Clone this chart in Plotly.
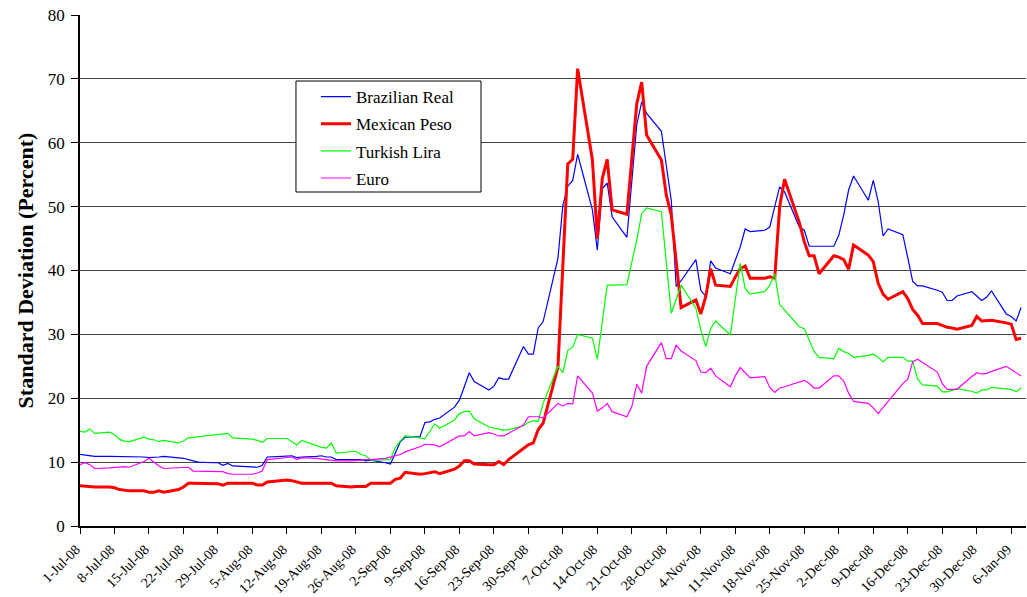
import pandas as pd
import plotly.graph_objects as go

# Business days, 1-Jul-2008 .. 8-Jan-2009
dates = pd.bdate_range("2008-07-01", "2009-01-08")

brazilian_real = [
    11.2, 11.1, 11.0, 10.9, 10.9,
    10.9, 10.9, 10.9, 10.8, 10.8,
    10.7, 10.7, 10.8, 10.9, 10.7,
    10.6, 10.4, 10.2, 10.0, 9.9,
    9.9, 9.5, 9.8, 9.4, 9.3,
    9.2, 9.2, 9.5, 10.8, 10.9,
    11.0, 11.0, 10.7, 10.8, 10.9,
    11.0, 10.8, 10.8, 10.4, 10.4,
    10.5, 10.4, 10.2, 10.3, 9.9,
    9.7, 11.4, 13.2, 13.9, 14.0,
    16.2, 16.3, 16.7, 16.9, 18.6,
    19.7, 21.8, 24.0, 22.6, 21.3,
    21.9, 23.2, 23.0, 23.0, 28.1,
    26.9, 26.9, 31.0, 32.0, 41.9,
    50.2, 53.2, 54.1, 58.2, 49.5,
    43.2, 52.8, 53.7, 48.4, 45.2,
    54.0, 62.8, 66.4, 64.6, 61.8,
    56.4, 51.0, 37.5, 38.4, 41.7,
    36.9, 36.0, 41.5, 40.4, 39.5,
    41.6, 43.7, 46.5, 46.1, 46.3,
    46.8, 50.0, 53.1, 52.3, 46.8,
    46.3, 43.8, 43.8, 43.8, 43.8,
    45.5, 48.7, 52.6, 54.8, 51.0,
    54.1, 50.8, 45.4, 46.5, 45.6,
    42.0, 38.3, 37.6, 37.6, 36.9,
    36.6, 35.3, 35.3, 36.0, 36.7,
    36.0, 35.3, 35.8, 36.8, 33.2,
    32.8, 32.1, 34.2,
]

mexican_peso = [
    6.3, 6.2, 6.1, 6.1, 6.1,
    6.0, 5.7, 5.6, 5.5, 5.5,
    5.3, 5.3, 5.5, 5.3, 5.7,
    6.1, 6.7, 6.7, 6.7, 6.6,
    6.6, 6.4, 6.7, 6.7, 6.7,
    6.7, 6.4, 6.4, 6.9, 7.1,
    7.2, 7.1, 6.9, 6.7, 6.7,
    6.7, 6.7, 6.7, 6.3, 6.1,
    6.2, 6.2, 6.2, 6.7, 6.7,
    6.7, 7.3, 7.5, 8.4, 8.1,
    8.2, 8.3, 8.5, 8.2, 8.9,
    9.4, 10.2, 10.2, 9.7, 9.6,
    9.6, 10.1, 9.6, 10.4, 12.2,
    12.7, 13.0, 15.1, 16.1, 24.9,
    40.8, 56.7, 57.4, 71.6, 57.3,
    45.0, 54.4, 57.4, 49.5, 48.8,
    57.5, 66.1, 69.5, 61.2, 57.3,
    51.8, 48.7, 41.5, 34.2, 35.4,
    33.2, 35.9, 40.3, 37.7, 37.5,
    39.0, 40.3, 40.7, 38.8, 38.8,
    39.0, 38.8, 50.0, 54.3, 47.5,
    44.5, 42.3, 42.3, 39.5, 42.3,
    42.1, 41.7, 40.2, 44.0, 42.4,
    41.4, 38.0, 36.3, 35.5, 36.7,
    35.6, 33.9, 33.0, 31.7, 31.7,
    31.4, 31.1, 31.0, 30.8, 31.4,
    32.8, 32.1, 32.2, 32.2, 31.8,
    31.6, 29.2, 29.4,
]

turkish_lira = [
    14.8, 14.7, 15.2, 14.5, 14.7,
    14.3, 13.6, 13.3, 13.2, 13.9,
    13.6, 13.5, 13.2, 13.4, 13.0,
    13.3, 13.8, 13.9, 14.0, 14.2,
    14.4, 14.5, 14.5, 13.8, 13.6,
    13.6, 13.4, 13.1, 13.7, 13.7,
    13.7, 13.2, 12.7, 13.4, 12.5,
    12.3, 12.2, 13.0, 11.4, 11.6,
    11.7, 11.2, 11.0, 10.3, 10.3,
    10.4, 12.3, 13.3, 14.1, 13.8,
    13.7, 14.8, 16.0, 15.3, 16.6,
    17.6, 17.9, 18.0, 16.8, 15.5,
    15.3, 15.1, 15.0, 15.1, 15.7,
    16.2, 16.5, 16.4, 19.2, 25.0,
    24.0, 27.5, 28.0, 30.0, 29.4,
    26.1, 31.9, 37.7, 37.7, 37.8,
    41.3, 44.8, 48.9, 49.8, 49.2,
    41.0, 33.3, 35.5, 37.7, 34.1,
    30.7, 28.1, 30.9, 32.1, 29.9,
    35.5, 41.1, 37.2, 36.3, 36.7,
    37.7, 39.5, 34.7, 33.8, 31.2,
    30.9, 29.0, 27.3, 26.4, 26.2,
    27.8, 27.3, 27.0, 26.4, 26.7,
    26.9, 26.4, 25.7, 26.4, 26.4,
    25.8, 25.8, 23.0, 22.1, 21.9,
    21.0, 21.0, 21.2, 21.5, 21.1,
    20.8, 21.3, 21.3, 21.7, 21.5,
    21.4, 21.0, 21.6,
]

euro = [
    9.6, 9.9, 9.6, 9.0, 9.1,
    9.2, 9.3, 9.3, 9.2, 10.1,
    10.6, 10.0, 9.4, 9.0, 9.1,
    9.2, 9.2, 8.6, 8.6, 8.6,
    8.5, 8.5, 8.2, 8.1, 8.1,
    8.1, 8.3, 8.6, 10.4, 10.6,
    10.7, 10.8, 10.4, 10.7, 10.6,
    10.5, 10.4, 10.3, 10.2, 10.2,
    10.2, 10.3, 10.4, 10.4, 10.6,
    10.8, 11.0, 11.2, 11.6, 12.4,
    12.8, 12.8, 12.7, 12.4, 13.6,
    14.1, 14.1, 14.8, 14.1, 14.6,
    14.4, 14.1, 14.1, 14.5, 15.8,
    17.1, 17.1, 17.1, 16.9, 19.2,
    18.8, 19.2, 19.1, 23.5, 20.8,
    18.0, 18.5, 19.2, 17.9, 17.1,
    18.7, 22.2, 20.8, 25.0, 28.7,
    26.2, 26.2, 28.3, 27.4, 25.9,
    24.1, 24.0, 24.7, 23.5, 21.8,
    23.5, 24.8, 24.0, 23.2, 23.4,
    21.7, 20.9, 21.6, 21.8, 22.6,
    22.8, 22.3, 21.6, 21.6, 23.5,
    23.5, 22.7, 20.8, 19.5, 19.2,
    18.5, 17.6, 18.5, 19.5, 22.3,
    23.0, 25.7, 26.1, 25.6, 24.1,
    22.3, 21.4, 21.4, 21.4, 23.4,
    24.0, 23.8, 23.9, 24.2, 25.0,
    24.5, 24.0, 23.5,
]

series_names = ["Brazilian Real", "Mexican Peso", "Turkish Lira", "Euro"]
series_values = [brazilian_real, mexican_peso, turkish_lira, euro]
series_colors = ["#0000FF", "#FF0000", "#00FF00", "#FF00FF"]
series_widths = [1.2, 3, 1.2, 1.2]

y_title = "Standard Deviation (Percent)"
font_family = "Liberation Serif, Times New Roman, serif"

fig = go.Figure()
for name, vals, col, w in zip(series_names, series_values, series_colors, series_widths):
    assert len(vals) == len(dates), (name, len(vals), len(dates))
    fig.add_trace(go.Scatter(
        x=dates, y=vals, mode="lines", name=name, legendgroup=name,
        line=dict(color=col, width=w),
    ))

# legend frame (drawn as a paper-referenced box behind the legend entries)
fig.add_shape(
    type="rect", xref="paper", yref="paper",
    x0=0.2283, x1=0.4239, y0=0.6536, y1=0.8708,
    line=dict(color="black", width=1), fillcolor="white", layer="above",
)

fig.update_layout(
    width=1027, height=597,
    margin=dict(l=80, r=1, t=15, b=71),
    paper_bgcolor="white", plot_bgcolor="white",
    font=dict(family=font_family, color="black", size=16),
    showlegend=True,
    legend=dict(
        x=0.2283, y=0.8745, xanchor="left", yanchor="top",
        bgcolor="rgba(0,0,0,0)", borderwidth=0,
        font=dict(family=font_family, size=17, color="black"),
        indentation=20, tracegroupgap=2, traceorder="grouped",
    ),
)

fig.update_xaxes(
    type="date",
    range=["2008-07-01", "2009-01-09"],
    tick0="2008-07-01", dtick=7 * 86400000,
    tickformat="%-d-%b-%y", tickangle=-45,
    ticks="outside", ticklen=6, tickcolor="black", tickwidth=1,
    ticklabelstandoff=2, ticklabelshift=-4, automargin=False,
    showline=True, linecolor="black", linewidth=1.5,
    showgrid=False, zeroline=False,
    tickfont=dict(family=font_family, size=14, color="black"),
)
fig.update_yaxes(
    range=[0, 80], dtick=10,
    ticks="outside", ticklen=7, tickcolor="black", tickwidth=1,
    showline=True, linecolor="black", linewidth=1.5,
    showgrid=True, gridcolor="#444444", gridwidth=1,
    zeroline=False, automargin=False,
    ticklabelstandoff=3,
    tickfont=dict(family=font_family, size=17, color="black"),
    title=dict(text="<b>" + y_title + "</b>", standoff=8,
               font=dict(family=font_family, size=22, color="black")),
)

fig.write_html("out.html")
